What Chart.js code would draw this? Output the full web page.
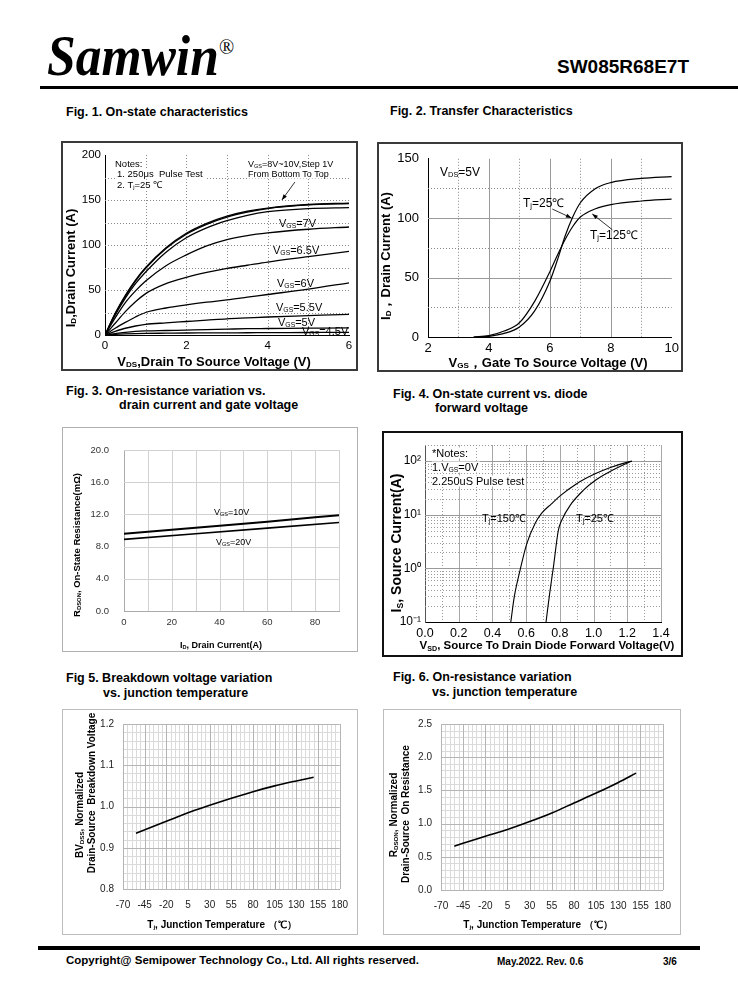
<!DOCTYPE html>
<html>
<head>
<meta charset="utf-8">
<script src="https://cdn.jsdelivr.net/npm/chart.js@4.4.0/dist/chart.umd.min.js"></script>
<style>
  body { margin: 0; background: #fff; font-family: "Liberation Sans", Arial, sans-serif; color: #000; }
  #page { position: relative; width: 738px; height: 1000px; overflow: hidden; background: #fff; }
  .t { position: absolute; white-space: nowrap; line-height: 1; transform: translateY(-50%); }
  .c { position: absolute; white-space: nowrap; line-height: 1; transform: translate(-50%, -50%); }
  .r { position: absolute; white-space: nowrap; line-height: 1; transform: translate(-50%, -50%) rotate(-90deg); font-weight: bold; }
  .b { font-weight: bold; }
  .frame { position: absolute; box-sizing: border-box; pointer-events: none; }
  .wb { background: #fff; }
  canvas { position: absolute; }
  sub { font-size: 62%; vertical-align: -0.2em; line-height: 0; }
</style>
</head>
<body>
<div id="page">
  <!-- header -->
  <div style="position:absolute;left:47px;top:28px;font-family:'Liberation Serif','Times New Roman',serif;font-weight:bold;font-style:italic;font-size:56px;line-height:1;transform:scaleX(0.92);transform-origin:left top;white-space:nowrap;">Samwin</div>
  <div style="position:absolute;left:219px;top:37px;font-family:'Liberation Serif',serif;font-size:20px;line-height:1;">®</div>
  <div class="t b" style="left:557px;top:66px;font-size:19px;">SW085R68E7T</div>
  <div style="position:absolute;left:40px;top:86px;width:698px;height:3px;background:#000;"></div>

  <!-- figure titles -->
  <div class="t b" style="left:66px;top:112px;font-size:12.5px;">Fig. 1. On-state characteristics</div>
  <div class="t b" style="left:390px;top:111px;font-size:12.5px;">Fig. 2. Transfer Characteristics</div>
  <div class="t b" style="left:66px;top:391px;font-size:12.5px;">Fig. 3. On-resistance variation vs.</div>
  <div class="t b" style="left:119px;top:405px;font-size:12.5px;">drain current and gate voltage</div>
  <div class="t b" style="left:393px;top:394px;font-size:12.5px;">Fig. 4. On-state current vs. diode</div>
  <div class="t b" style="left:435px;top:408px;font-size:12.5px;">forward voltage</div>
  <div class="t b" style="left:66px;top:678px;font-size:12.5px;">Fig 5. Breakdown voltage variation</div>
  <div class="t b" style="left:103px;top:693px;font-size:12.5px;">vs. junction temperature</div>
  <div class="t b" style="left:393px;top:677px;font-size:12.5px;">Fig. 6. On-resistance variation</div>
  <div class="t b" style="left:432px;top:692px;font-size:12.5px;">vs. junction temperature</div>

  <!-- footer -->
  <div style="position:absolute;left:38px;top:946px;width:662px;height:4px;background:#000;"></div>
  <div class="t b" style="left:66px;top:961px;font-size:11.5px;">Copyright@ Semipower Technology Co., Ltd. All rights reserved.</div>
  <div class="t b" style="left:497px;top:962px;font-size:10px;">May.2022. Rev. 0.6</div>
  <div class="t b" style="left:663px;top:962px;font-size:10px;">3/6</div>
</div>

<div id="labels" style="display:none">
  <!-- fig 1 -->
  <div class="r" style="left:70px;top:268px;font-size:13px;">I<sub>D</sub>,Drain Current (A)</div>
  <div class="c b" style="left:214px;top:361px;font-size:13px;">V<sub>DS</sub>,Drain To Source Voltage (V)</div>
  <div class="t wb" style="left:115px;top:164px;font-size:9.5px;padding:0 2px 0 0;">Notes:</div>
  <div class="t wb" style="left:117px;top:174px;font-size:9.5px;padding-right:2px;">1. 250μs&nbsp; Pulse Test</div>
  <div class="t wb" style="left:117px;top:185px;font-size:9.5px;padding-right:2px;">2. T<sub>j</sub>=25 ℃</div>
  <div class="t wb" style="left:248px;top:164px;font-size:9px;">V<sub>GS</sub>=8V~10V,Step 1V</div>
  <div class="t wb" style="left:248px;top:174px;font-size:9px;">From Bottom To Top</div>
  <div class="t" style="left:279px;top:223px;font-size:11px;">V<sub>GS</sub>=7V</div>
  <div class="t" style="left:273px;top:250px;font-size:11px;">V<sub>GS</sub>=6.5V</div>
  <div class="t" style="left:277px;top:283px;font-size:11px;">V<sub>GS</sub>=6V</div>
  <div class="t" style="left:276px;top:307px;font-size:11px;">V<sub>GS</sub>=5.5V</div>
  <div class="t" style="left:278px;top:322px;font-size:11px;">V<sub>GS</sub>=5V</div>
  <div class="t" style="left:302px;top:331px;font-size:11px;">V<sub>GS</sub>=4.5V</div>
  <!-- fig 2 -->
  <div class="r" style="left:385px;top:256px;font-size:13px;">I<sub>D</sub>，Drain Current (A)</div>
  <div class="c b" style="left:548px;top:362px;font-size:13px;">V<sub>GS</sub>，Gate To Source Voltage (V)</div>
  <div class="t" style="left:440px;top:172px;font-size:12px;">V<sub>DS</sub>=5V</div>
  <div class="t" style="left:523px;top:203px;font-size:12px;">T<sub>j</sub>=25℃</div>
  <div class="t" style="left:590px;top:235px;font-size:12px;">T<sub>j</sub>=125℃</div>
  <!-- fig 3 -->
  <div class="r" style="left:77px;top:545px;font-size:9.5px;">R<sub>DSON</sub>, On-State Resistance(mΩ)</div>
  <div class="c b" style="left:221px;top:645px;font-size:9px;">I<sub>D</sub>, Drain Current(A)</div>
  <div class="t" style="left:214px;top:512px;font-size:9px;">V<sub>GS</sub>=10V</div>
  <div class="t" style="left:216px;top:542px;font-size:9px;">V<sub>GS</sub>=20V</div>
  <!-- fig 4 -->
  <div class="r" style="left:396px;top:543px;font-size:14px;">I<sub>S</sub>, Source Current(A)</div>
  <div class="c b" style="left:547px;top:646px;font-size:11.5px;">V<sub>SD</sub>, Source To Drain Diode Forward Voltage(V)</div>
  <div class="t wb" style="left:432px;top:453px;font-size:11px;padding-right:2px;">*Notes:</div>
  <div class="t wb" style="left:432px;top:467px;font-size:11px;padding-right:2px;">1.V<sub>GS</sub>=0V</div>
  <div class="t wb" style="left:432px;top:481px;font-size:11px;padding-right:2px;">2.250uS Pulse test</div>
  <div class="t" style="left:482px;top:518px;font-size:11px;">T<sub>j</sub>=150℃</div>
  <div class="t" style="left:576px;top:518px;font-size:11px;">T<sub>j</sub>=25℃</div>
  <!-- fig 5 -->
  <div class="r" style="left:80px;top:815px;font-size:10px;">BV<sub>DSS</sub>, Normalized</div>
  <div class="r" style="left:92px;top:793px;font-size:10px;">Drain-Source&nbsp; Breakdown Voltage</div>
  <div class="c b" style="left:222px;top:925px;font-size:10px;">T<sub>j</sub>, Junction Temperature （℃）</div>
  <!-- fig 6 -->
  <div class="r" style="left:394px;top:815px;font-size:10px;">R<sub>DSON</sub>, Normalized</div>
  <div class="r" style="left:406px;top:814px;font-size:10px;">Drain-Source&nbsp; On Resistance</div>
  <div class="c b" style="left:538px;top:925px;font-size:10px;">T<sub>j</sub>, Junction Temperature （℃）</div>
</div>

<script>
Chart.defaults.font.family = '"Liberation Sans", Arial, sans-serif';
Chart.defaults.color = '#000';

// ---- Fig 1: on-state characteristics (ID vs VDS) ----
const vdsPts = [0, 0.25, 0.5, 0.75, 1, 1.5, 2, 2.5, 3, 3.5, 4, 5, 6];
const id10V = [0, 24, 44, 61, 75, 97, 113, 124, 132, 137.5, 141, 145, 146.5];
const id9V  = [0, 23.5, 43, 60, 74, 96, 112, 123, 131, 136.5, 140.5, 144.5, 146];
const id8V  = [0, 22, 41, 57, 70, 92, 108, 119, 127, 133, 137, 140.5, 141.5];
const id7V  = [0, 19, 36, 49, 60, 77, 89, 99, 106, 110.5, 113.5, 117.5, 120];
const id65V = [0, 13, 26, 37, 46, 57, 64, 69.5, 74, 77.5, 81, 87, 93];
const id6V  = [0, 7.5, 14, 20, 25, 30, 33.5, 36.5, 39, 42, 45, 51, 58];
const id55V = [0, 4, 7.5, 10, 11.8, 13.5, 15, 16.5, 18, 19, 20, 21.5, 23];
const id5V  = [0, 1.5, 3, 4, 4.5, 5, 5.5, 6, 6.5, 7, 7.2, 7.6, 8];
const id45V = [0, 0.8, 1.3, 1.6, 1.8, 2, 2.2, 2.3, 2.4, 2.5, 2.6, 2.8, 3];

// ---- Fig 2: transfer characteristics (ID vs VGS) ----
const vgsPts  = [3.5, 4, 4.5, 5, 5.5, 6, 6.25, 6.5, 6.75, 7, 7.5, 8, 9, 10];
const idTj25  = [0, 0.6, 3, 8.5, 22, 47, 65, 85, 101, 113, 125, 130, 133.5, 135];
const idTj125 = [0, 1.2, 5, 12, 30, 55, 69, 82, 93, 101, 108, 111.5, 114.5, 116];

// ---- Fig 3: RDS(on) vs drain current ----
const idFig3 = [0, 30, 60, 90];
const rVgs10 = [9.6, 10.35, 11.1, 11.9];
const rVgs20 = [8.9, 9.6, 10.3, 11.0];

// ---- Fig 4: body diode forward characteristic ----
const vsd150 = [0.509, 0.53, 0.564, 0.604, 0.653, 0.69, 0.75, 0.805, 0.9, 1.009, 1.1, 1.207, 1.227];
const is150  = [0.1, 0.3, 0.93, 2.9, 6.9, 10.5, 16, 23, 38, 58, 76, 97, 100];
const vsd25  = [0.718, 0.74, 0.762, 0.791, 0.811, 0.861, 0.94, 1.009, 1.098, 1.207, 1.227];
const is25   = [0.1, 0.35, 1.07, 5.1, 7.9, 15, 28.7, 43.6, 64, 94, 100];
const decadeVals   = [0.1, 1, 10, 100];
const decadeLabels = ['10⁻¹', '10⁰', '10¹', '10²'];

// ---- Fig 5 / Fig 6: vs junction temperature ----
const tjPts   = [-55, -20, 5, 30, 55, 80, 105, 130, 150];
const bvNorm  = [0.935, 0.964, 0.985, 1.003, 1.02, 1.036, 1.05, 1.062, 1.071];
const ronNorm = [0.66, 0.81, 0.91, 1.03, 1.16, 1.31, 1.46, 1.62, 1.76];

const page = document.getElementById('page');

function range(a, b, step) {
  const out = [];
  for (let v = a; v <= b + step / 1000; v += step) out.push(+v.toFixed(6));
  return out;
}

function curve(xs, ys, w) {
  return {
    data: xs.map((x, i) => ({ x: x, y: ys[i] })),
    borderColor: '#000', borderWidth: w, pointRadius: 0,
    cubicInterpolationMode: 'monotone', fill: false
  };
}

// extra grid lines (solid or dotted) through the scales
function gridPlugin(lines) {
  return {
    id: 'extraGrid',
    beforeDatasetsDraw(chart) {
      const { ctx, chartArea: a, scales } = chart;
      ctx.save();
      lines.forEach(g => {
        const sc = scales[g.axis];
        ctx.strokeStyle = g.color;
        ctx.lineWidth = g.width || 1;
        ctx.setLineDash(g.dash || []);
        g.values.forEach(v => {
          const p = Math.round(sc.getPixelForValue(v)) + 0.5;
          ctx.beginPath();
          if (g.axis === 'x') { ctx.moveTo(p, a.top); ctx.lineTo(p, a.bottom); }
          else { ctx.moveTo(a.left, p); ctx.lineTo(a.right, p); }
          ctx.stroke();
        });
      });
      ctx.restore();
    }
  };
}

// pointer arrows, in data coordinates
function arrowPlugin(list) {
  return {
    id: 'arrows',
    afterDatasetsDraw(chart) {
      const { ctx, scales: { x, y } } = chart;
      ctx.save();
      ctx.strokeStyle = '#000';
      ctx.fillStyle = '#000';
      ctx.lineWidth = 0.8;
      list.forEach(a => {
        const x1 = x.getPixelForValue(a[0]), y1 = y.getPixelForValue(a[1]);
        const x2 = x.getPixelForValue(a[2]), y2 = y.getPixelForValue(a[3]);
        ctx.beginPath(); ctx.moveTo(x1, y1); ctx.lineTo(x2, y2); ctx.stroke();
        const ang = Math.atan2(y2 - y1, x2 - x1), L = 6;
        ctx.beginPath();
        ctx.moveTo(x2, y2);
        ctx.lineTo(x2 - L * Math.cos(ang - 0.35), y2 - L * Math.sin(ang - 0.35));
        ctx.lineTo(x2 - L * Math.cos(ang + 0.35), y2 - L * Math.sin(ang + 0.35));
        ctx.closePath();
        ctx.fill();
      });
      ctx.restore();
    }
  };
}

function makeScale(o) {
  return {
    type: o.type || 'linear',
    min: o.min, max: o.max,
    grid: { display: false, drawTicks: false },
    border: { display: true, color: o.axisColor || '#000', width: 1 },
    ticks: {
      stepSize: o.step, autoSkip: false, maxRotation: 0, includeBounds: false,
      padding: o.pad, color: o.color || '#000',
      font: { size: o.size },
      callback: o.fmt || (v => v)
    }
  };
}

// frame = [left, top, right, bottom] of the box, plot = same for the plot area
function drawFigure(frame, plot, border, xs, ys, datasets, grid, arrows) {
  const [fl, ft, fr, fb] = frame;
  const [pl, pt, pr, pb] = plot;
  const cv = document.createElement('canvas');
  cv.width = fr - fl;
  cv.height = fb - ft;
  cv.style.left = fl + 'px';
  cv.style.top = ft + 'px';
  page.appendChild(cv);

  const box = document.createElement('div');
  box.className = 'frame';
  box.style.cssText = `left:${fl}px;top:${ft}px;width:${fr - fl}px;height:${fb - ft}px;border:${border};`;
  page.appendChild(box);

  xs.afterFit = s => { s.height = fb - pb; };
  ys.afterFit = s => { s.width = pl - fl; };

  new Chart(cv, {
    type: 'line',
    data: { datasets: datasets },
    options: {
      responsive: false,
      animation: false,
      events: [],
      layout: { padding: { top: pt - ft, right: fr - pr, left: 0, bottom: 0 } },
      plugins: { legend: { display: false }, tooltip: { enabled: false } },
      scales: { x: xs, y: ys }
    },
    plugins: [gridPlugin(grid), arrowPlugin(arrows || [])]
  });
}

const dotted = [1, 2];

// Fig 1
drawFigure([61, 141, 358, 371], [105, 155, 349, 335], '2px solid #3a3a3a',
  makeScale({ min: 0, max: 6, step: 2, size: 11.5, pad: 4 }),
  makeScale({ min: 0, max: 200, step: 50, size: 11.5, pad: 4 }),
  [id10V, id9V, id8V, id7V, id65V, id6V, id55V, id5V, id45V].map(d => curve(vdsPts, d, 1.3)),
  [
    { axis: 'x', values: range(1, 5, 1), color: '#8a8a8a', dash: dotted },
    { axis: 'y', values: range(25, 175, 25), color: '#8a8a8a', dash: dotted }
  ],
  [[4.67, 170, 4.35, 150]]
);

// Fig 2
drawFigure([377, 142, 683, 372], [428, 156, 673, 337], '2px solid #3a3a3a',
  makeScale({ min: 2, max: 10, step: 2, size: 13, pad: 4 }),
  makeScale({ min: 0, max: 150, step: 50, size: 13, pad: 9 }),
  [curve(vgsPts, idTj25, 1.2), curve(vgsPts, idTj125, 1.2)],
  [
    { axis: 'x', values: [3, 5, 7, 9], color: '#8a8a8a', dash: dotted },
    { axis: 'x', values: [4, 6, 8], color: '#9a9a9a' },
    { axis: 'y', values: [25, 75, 125], color: '#8a8a8a', dash: dotted },
    { axis: 'y', values: [50, 100], color: '#9a9a9a' }
  ],
  [[6.08, 107.7, 6.71, 100.2], [8.05, 90.3, 7.39, 103.6]]
);

// Fig 3
drawFigure([62, 427, 358, 652], [124, 450, 339, 611], '1px solid #b0b0b0',
  makeScale({ min: 0, max: 90, step: 20, size: 9.5, pad: 6, color: '#333', axisColor: '#aaa' }),
  makeScale({ min: 0, max: 20, step: 4, size: 9.5, pad: 15, color: '#333', axisColor: '#aaa',
    fmt: v => v.toFixed(1) }),
  [curve(idFig3, rVgs10, 2), curve(idFig3, rVgs20, 1.6)],
  [
    { axis: 'x', values: range(10, 90, 10), color: '#d2d2d2' },
    { axis: 'y', values: range(4, 20, 4), color: '#d2d2d2' }
  ]
);

// Fig 4 (log y)
const minorLog = [];
decadeVals.forEach(d => { for (let k = 2; k <= 9; k++) if (k * d <= 200) minorLog.push(k * d); });
drawFigure([382, 431, 683, 657], [425, 445, 661, 622], '2px solid #111',
  makeScale({ min: 0, max: 1.4, step: 0.2, size: 12.5, pad: 4, fmt: v => v.toFixed(1) }),
  makeScale({ type: 'logarithmic', min: 0.1, max: 200, size: 12, pad: 4, axisColor: '#555',
    fmt: v => {
      const i = decadeVals.findIndex(d => Math.abs(d - v) < d * 1e-6);
      return i >= 0 ? decadeLabels[i] : '';
    } }),
  [curve(vsd150, is150, 1.1), curve(vsd25, is25, 1.1)],
  [
    { axis: 'x', values: range(0.1, 1.3, 0.2), color: '#9a9a9a', dash: dotted },
    { axis: 'x', values: range(0.2, 1.4, 0.2), color: '#a8a8a8' },
    { axis: 'y', values: minorLog, color: '#9a9a9a', dash: dotted },
    { axis: 'y', values: [1, 10, 100], color: '#9a9a9a' }
  ]
);

// Fig 5
const tempTickMinor = range(-70, 180, 5).filter(v => (v + 70) % 25 !== 0);
drawFigure([62, 709, 358, 935], [123, 723, 345, 889], '1px solid #bdbdbd',
  makeScale({ min: -70, max: 180, step: 25, size: 10, pad: 10, color: '#222', axisColor: '#999' }),
  makeScale({ min: 0.8, max: 1.2, step: 0.1, size: 10, pad: 9, color: '#222', axisColor: '#999',
    fmt: v => v.toFixed(1) }),
  [curve(tjPts, bvNorm, 1.6)],
  [
    { axis: 'x', values: tempTickMinor, color: '#dadada' },
    { axis: 'y', values: range(0.82, 1.2, 0.02), color: '#dadada' },
    { axis: 'x', values: range(-70, 180, 25), color: '#b5b5b5' },
    { axis: 'y', values: range(0.8, 1.2, 0.1), color: '#b5b5b5' }
  ]
);

// Fig 6
drawFigure([383, 709, 681, 935], [441, 722, 666, 890], '1px solid #bdbdbd',
  makeScale({ min: -70, max: 180, step: 25, size: 10, pad: 10, color: '#222', axisColor: '#999' }),
  makeScale({ min: 0, max: 2.5, step: 0.5, size: 10, pad: 9, color: '#222', axisColor: '#999',
    fmt: v => v.toFixed(1) }),
  [curve(tjPts, ronNorm, 1.6)],
  [
    { axis: 'x', values: tempTickMinor, color: '#dadada' },
    { axis: 'y', values: range(0.1, 2.5, 0.1), color: '#dadada' },
    { axis: 'x', values: range(-70, 180, 25), color: '#b5b5b5' },
    { axis: 'y', values: range(0, 2.5, 0.5), color: '#b5b5b5' }
  ]
);

// move the text labels on top of the charts
const labels = document.getElementById('labels');
while (labels.firstElementChild) page.appendChild(labels.firstElementChild);
</script>
</body>
</html>
